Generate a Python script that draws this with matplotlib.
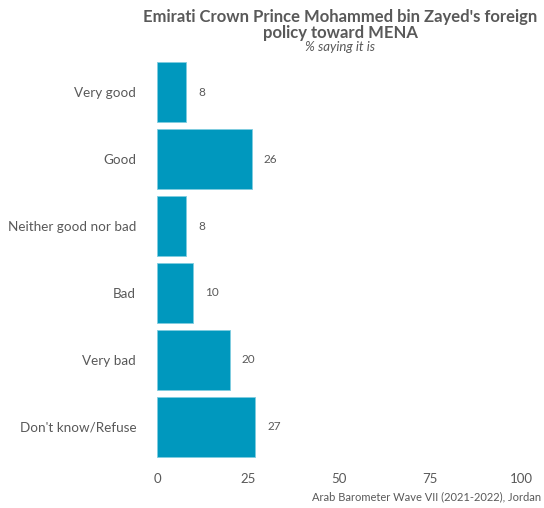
import matplotlib.pyplot as plt

categories = ['Very good', 'Good', 'Neither good nor bad', 'Bad', 'Very bad', "Don't know/Refuse"]
values = [8, 26, 8, 10, 20, 27]
xticks = [0, 25, 50, 75, 100]

bar_color = '#0098BE'
text_color = '#595959'

plt.rcParams['font.family'] = ['Lato', 'DejaVu Sans']

fig = plt.figure(figsize=(5.44, 5.08), dpi=100)
ax = fig.add_axes([157 / 544, 1 - 467 / 508, 364 / 544, 415 / 508])

pos = list(range(len(categories)))
ax.barh(pos, values, height=0.9, color=bar_color, edgecolor='#7fcde0', linewidth=0.6)
for p, v in zip(pos, values):
    ax.text(v + 3.3, p, str(v), va='center', ha='left', fontsize=8.5, color=text_color)

ax.set_ylim(len(categories) - 0.4, -0.6)
ax.set_xlim(0, 100)
ax.set_yticks(pos)
ax.set_yticklabels(categories, fontsize=9.7, color=text_color)
ax.set_xticks(xticks)
ax.set_xticklabels([str(t) for t in xticks], fontsize=9.5, color=text_color)
ax.tick_params(length=0)
ax.tick_params(axis='x', pad=4)
ax.tick_params(axis='y', pad=15)
for s in ax.spines.values():
    s.set_visible(False)

fig.text(340 / 544, 1 - 25 / 508, "Emirati Crown Prince Mohammed bin Zayed's foreign\npolicy toward MENA",
         ha='center', va='center', fontsize=12, fontweight='bold', color=text_color, linespacing=0.95)
fig.text(340 / 544, 1 - 47 / 508, '% saying it is', ha='center', va='center',
         fontsize=9.5, style='italic', color=text_color)
fig.text(541 / 544, 1 - 497 / 508, 'Arab Barometer Wave VII (2021-2022), Jordan',
         ha='right', va='center', fontsize=8, color=text_color)

fig.savefig('out.png', dpi=100)
